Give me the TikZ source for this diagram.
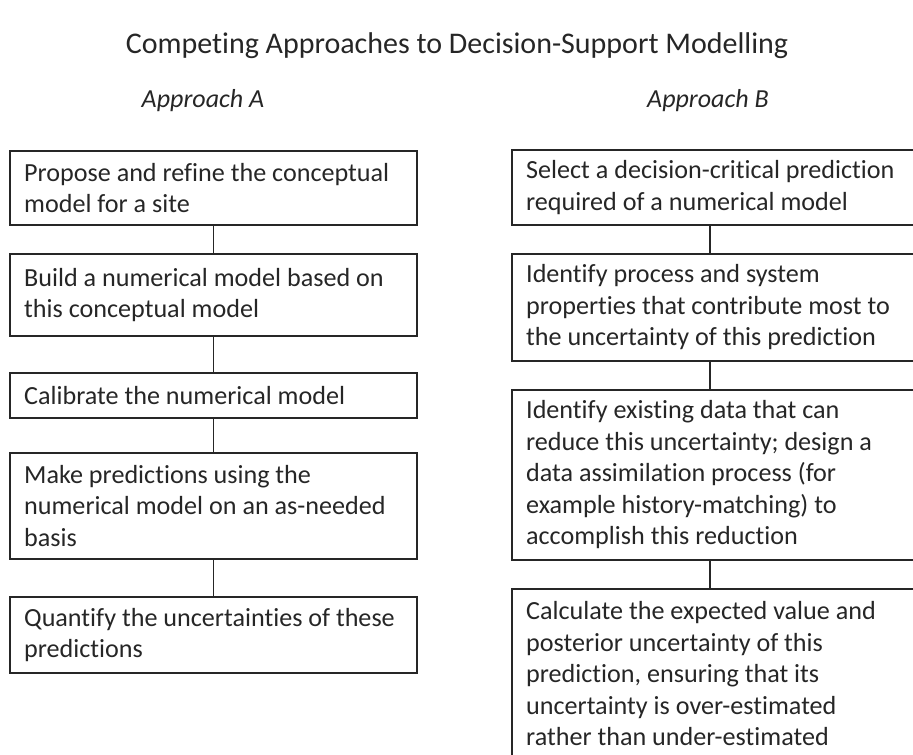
\documentclass[tikz,border=0pt]{standalone}
\usepackage{fontspec}
\setmainfont{Carlito}[Ligatures=NoCommon]

\begin{document}
\begin{tikzpicture}[x=0.75pt,y=-0.75pt,
  box/.style={draw=black!85, line width=1.3pt, text=black!85, align=flush left,
    anchor=north, text width=284pt, inner xsep=10.5pt, inner ysep=0pt,
    font=\fontsize{19.6}{23.6}\selectfont},
  link/.style={draw=black!85, line width=1.3pt},
  head/.style={text=black!85, font=\fontsize{19.5}{24}\selectfont\itshape}]
  \useasboundingbox (0,0) rectangle (913,754);
  \clip (0,0) rectangle (913,754);

  \node[text=black!85, font=\fontsize{22.5}{27}\selectfont] (title) at (457,46)
    {Competing Approaches to Decision-Support Modelling};
  \node[head] (headA) at (203,101) {Approach A};
  \node[head] (headB) at (708,101) {Approach B};

  % approach A
  \node[box, minimum height=55.5pt] (a1) at (213.5,150)
    {Propose and refine the conceptual\\model for a site};
  \node[box, minimum height=61.5pt] (a2) at (213.5,253)
    {Build a numerical model based on\\this conceptual model};
  \node[box, minimum height=33.75pt] (a3) at (213.5,372)
    {Calibrate the numerical model};
  \node[box, minimum height=79.5pt] (a4) at (213.5,452)
    {Make predictions using the\\numerical model on an as-needed\\basis};
  \node[box, minimum height=57pt] (a5) at (213.5,596)
    {Quantify the uncertainties of these\\predictions};

  % approach B
  \node[box, minimum height=56.25pt] (b1) at (715.5,149)
    {Select a decision-critical prediction\\required of a numerical model};
  \node[box, minimum height=80.25pt] (b2) at (715.5,253)
    {Identify process and system\\properties that contribute most to\\the uncertainty of this prediction};
  \node[box, minimum height=127.5pt] (b3) at (715.5,389)
    {Identify existing data that can\\reduce this uncertainty; design a\\data assimilation process (for\\example history-matching) to\\accomplish this reduction};
  \node[box, minimum height=127.5pt] (b4) at (715.5,588)
    {Calculate the expected value and\\posterior uncertainty of this\\prediction, ensuring that its\\uncertainty is over-estimated\\rather than under-estimated};

  \foreach \u/\v in {a1/a2,a2/a3,a3/a4,a4/a5}
    \draw[link] (\u.south) -- (\v.north);
  \foreach \u/\v in {b1/b2,b2/b3,b3/b4}
    \draw[link] ([xshift=-4pt]\u.south) -- ([xshift=-4pt]\v.north);
\end{tikzpicture}
\end{document}
